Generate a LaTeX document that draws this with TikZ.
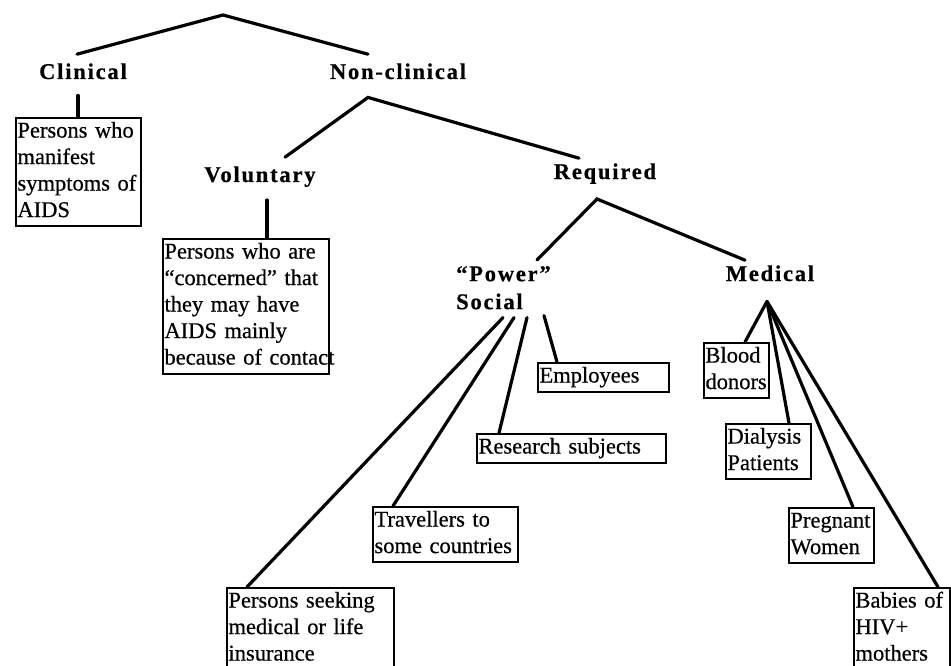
\documentclass[tikz,border=0pt]{standalone}
\usepackage{fontspec}
\setmainfont{Liberation Serif}[FakeBold=0.5]
\newfontfamily\labelfont{Liberation Serif}[LetterSpace=8, BoldFeatures={FakeBold=0.6}]
\begin{document}
\begin{tikzpicture}[x=1pt,y=-1pt,
  lbl/.style={font=\labelfont\bfseries\fontsize{22.5}{28}\selectfont, inner sep=0pt, anchor=base},
  leaf/.style={draw, line width=2pt, anchor=north west, align=left,
    inner xsep=1.5pt, inner ysep=1pt, font=\fontsize{22.5}{26.5}\selectfont,
    execute at begin node=\strut, execute at end node=\strut},
  link/.style={line width=3.2pt, line cap=round, line join=miter}]
\useasboundingbox[fill=white] (0,0) rectangle (951,666);

% category labels
\node[lbl] (clin)  at (83,79)  {Clinical};
\node[lbl] (noncl) at (398,79) {Non-clinical};
\node[lbl] (vol)   at (260,182) {Voluntary};
\node[lbl] (req)   at (605,179) {Required};
\node[lbl, anchor=north west, align=left] (power) at (456,266) {“Power”\\Social};
\node[lbl] (med)   at (770,281) {Medical};

% boxed groups
\node[leaf, text width=122pt] (symp) at (15,117) {Persons~who\\manifest\\symptoms~of\\AIDS};
\node[leaf, text width=163pt] (conc) at (162,238) {Persons~who~are\\“concerned”~that\\they~may~have\\AIDS~mainly\\because~of~contact};
\node[leaf, text width=128pt] (emp)   at (537,362) {Employees};
\node[leaf, text width=186pt] (res)   at (476,433) {Research~subjects};
\node[leaf, text width=142pt] (trav)  at (372,506) {Travellers~to\\some~countries};
\node[leaf, text width=164pt] (ins)   at (226,587) {Persons~seeking\\medical~or~life\\insurance};
\node[leaf, text width=62pt]  (blood) at (703,342) {Blood\\donors};
\node[leaf, text width=82pt]  (dial)  at (725,423) {Dialysis\\Patients};
\node[leaf, text width=82pt]  (preg)  at (788,507) {Pregnant\\Women};
\node[leaf, text width=93pt]  (bab)   at (853,587) {Babies~of\\HIV+\\mothers};

% branch points
\coordinate (top) at (223,15);
\coordinate (nclApex) at ([xshift=-30pt,yshift=-18pt]noncl.south);
\coordinate (reqApex) at ([xshift=-8pt,yshift=-15pt]req.south);
\coordinate (medApex) at ([xshift=-3pt,yshift=-20pt]med.south);

% tree connectors
\draw[link] ([xshift=-6pt,yshift=9pt]clin.north) -- (top) -- ([xshift=-30pt,yshift=9pt]noncl.north);
\draw[link] ([xshift=-5pt,yshift=-16pt]clin.south) -- ([xshift=63pt]symp.north west);
\draw[link] ([xshift=25pt,yshift=9pt]vol.north) -- (nclApex) -- ([xshift=-26pt,yshift=5pt]req.north);
\draw[link] ([xshift=7pt,yshift=-13pt]vol.south) -- ([xshift=105pt]conc.north west);
\draw[link] ([xshift=81pt,yshift=6pt]power.north west) -- (reqApex) -- ([xshift=-25pt,yshift=5pt]med.north);

\draw[link] ([xshift=47pt,yshift=-8pt]power.south west) -- ([xshift=21pt]ins.north west);
\draw[link] ([xshift=58pt,yshift=-8pt]power.south west) -- ([xshift=21pt]trav.north west);
\draw[link] ([xshift=71pt,yshift=-8pt]power.south west) -- ([xshift=23pt]res.north west);
\draw[link] ([xshift=88pt,yshift=-6pt]power.south west) -- ([xshift=20pt]emp.north west);

\draw[link] (medApex) -- ([xshift=42pt]blood.north west);
\draw[link] (medApex) -- ([xshift=64pt]dial.north west);
\draw[link] (medApex) -- ([xshift=65pt]preg.north west);
\draw[link] (medApex) -- ([xshift=85pt]bab.north west);
\end{tikzpicture}
\end{document}
